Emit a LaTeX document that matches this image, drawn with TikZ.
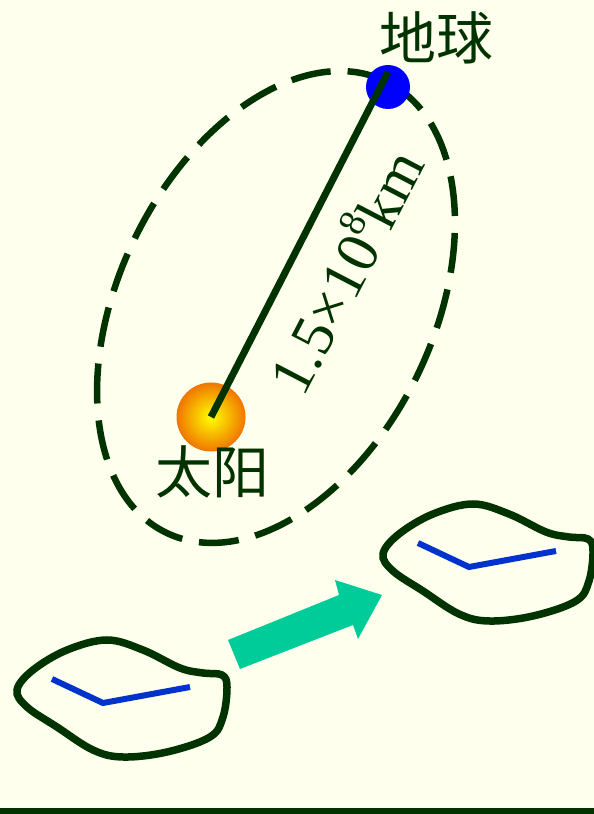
\documentclass[tikz,border=0pt]{standalone}
\usepackage{fontspec}
\setmainfont{Liberation Serif}
\newfontfamily\cjk{Noto Sans CJK SC}
\definecolor{paper}{HTML}{FFFFEE}
\definecolor{ink}{HTML}{003300}
\definecolor{trailblue}{HTML}{0033CC}
\definecolor{teal}{HTML}{00CC99}
\definecolor{sunrim}{HTML}{F07800}
\newcommand{\upeight}{\raisebox{0.42em}{\fontsize{38}{40}\selectfont 8}}

\begin{document}
\begin{tikzpicture}[x=1pt,y=1pt,
  orbit/.style={ink,line width=6.5pt,dash pattern=on 40pt off 17pt},
  shore/.style={ink,line width=7.5pt},
  trail/.style={trailblue,line width=6pt},
  every node/.style={text=ink}]
  \fill[paper] (0,0) rectangle (594,814);
  \useasboundingbox (0,0) rectangle (594,814);
  % orbit of the earth around the sun
  \draw[orbit,rotate around={64:(276,507)}] (276,507) ellipse (251 and 157);
  \node[circle,inner sep=0,minimum size=68pt,inner color=yellow,outer color=sunrim,draw=sunrim,line width=1pt] (sun) at (211,397) {};
  \node[circle,inner sep=0,minimum size=44pt,fill=blue] (earth) at (388,727) {};
  \coordinate (rim) at (388,742);
  \draw[ink,line width=7pt] (sun.center) -- (rim);
  \node[rotate=62.5,font=\fontsize{60}{62}\selectfont] (dist) at (343,544) {1.5×10\upeight km};
  \node[font=\cjk\fontsize{57}{60}\selectfont] (earthname) at (436,776) {地球};
  \node[font=\cjk\fontsize{57}{60}\selectfont] (sunname) at (212,342) {太阳};
  % two footprints of land, moved along the arrow
  \foreach \dx/\dy in {0/0,366/136}{
    \begin{scope}[shift={(\dx,\dy)}]
      \draw[shore] plot[smooth cycle,tension=0.6] coordinates {(17,124) (33,144) (67,164) (107,174) (143,164) (180,146) (203,141) (222,139) (227,127) (223,97) (210,77) (167,62) (123,57) (93,64) (57,87) (27,107)};
      \draw[trail] (52,135) -- (103,111) -- (190,127);
    \end{scope}
  }
  \fill[teal] (240,145) -- (353,189) -- (358,175) -- (382,219) -- (335,234) -- (339,219) -- (228,174) -- cycle;
  \fill[ink] (0,0) rectangle (594,6);
\end{tikzpicture}
\end{document}
